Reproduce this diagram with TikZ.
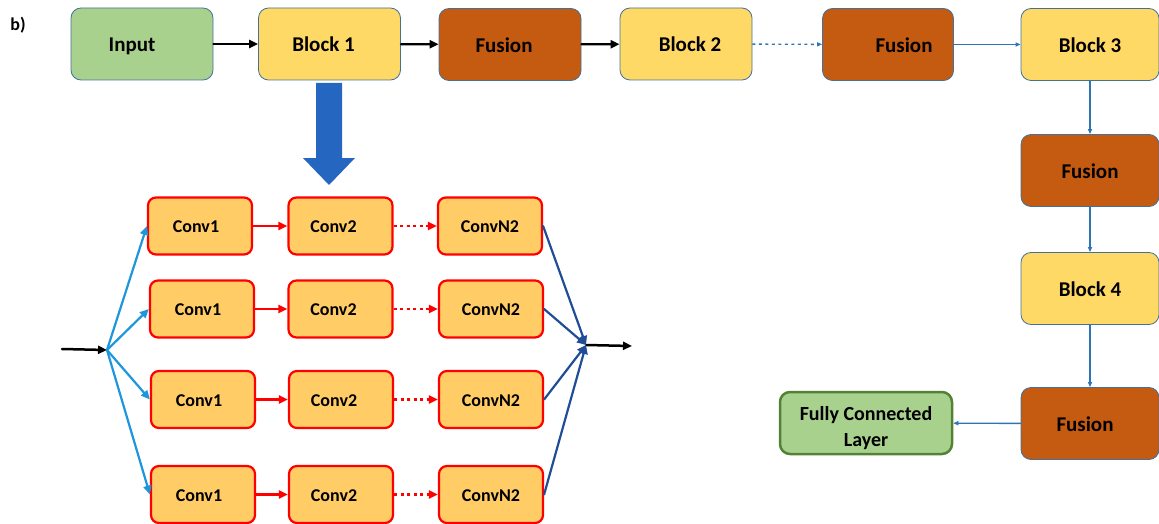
\documentclass[tikz,border=0pt]{standalone}
\usepackage{fontspec}
\setmainfont{Carlito}
\usetikzlibrary{arrows.meta}
\definecolor{cGreen}{HTML}{A9D18E}
\definecolor{cGreenD}{HTML}{548235}
\definecolor{cYellow}{HTML}{FFD966}
\definecolor{cRust}{HTML}{C55A11}
\definecolor{cEdge}{HTML}{41719C}
\definecolor{cConv}{HTML}{FFCC66}
\definecolor{cBlue}{HTML}{2E75B6}
\definecolor{cSky}{HTML}{1E96DC}
\definecolor{cNavy}{HTML}{1F4E96}
\definecolor{cBig}{HTML}{2566C0}

\tikzset{
  box/.style={draw=cEdge,line width=0.8pt,rounded corners=10pt,
              minimum width=142pt,minimum height=72pt,
              text height=17pt,text depth=1pt,
              font=\fontsize{21}{21}\selectfont\bfseries},
  fcbox/.style={fill=cGreen,draw=cGreenD,line width=2.5pt,rounded corners=10pt,
                minimum width=172pt,minimum height=62pt,align=center,
                font=\fontsize{20}{26}\selectfont\bfseries},
  conv/.style={draw=red,fill=cConv,line width=2.2pt,rounded corners=8pt,
               minimum width=104pt,minimum height=57pt,
               text height=14pt,text depth=1pt,
               font=\fontsize{18}{18}\selectfont\bfseries},
  tip/.style={-{Triangle[length=9pt,width=8pt]}},
  smalltip/.style={-{Triangle[length=5pt,width=4pt]}},
  dots/.style={dash pattern=on 3pt off 3.5pt,line cap=butt}
}

\begin{document}
\begin{tikzpicture}[x=1pt,y=-1pt,line cap=round,line join=round]
  \useasboundingbox (0,0) rectangle (1159,524);

  \node[font=\fontsize{18}{18}\selectfont\bfseries] (lbl) at (18,25) {b)};

  % top row
  \node[box,fill=cGreen] (input) at (142,44) {Input\hspace*{20pt}};
  \node[box,fill=cYellow] (blk1) at (329.5,44) {Block 1\hspace*{12pt}};
  \node[box,fill=cRust] (fus1) at (510,44.5) {Fusion\hspace*{12pt}};
  \node[box,fill=cYellow,minimum width=132pt] (blk2) at (686,44) {\hspace*{8pt}Block 2};
  \node[box,fill=cRust,minimum width=131pt] (fus2) at (888,44.5) {\hspace*{32pt}Fusion};
  \node[box,fill=cYellow,minimum width=138pt] (blk3) at (1090,44.5) {Block 3};
  % right column
  \node[box,fill=cRust,minimum width=138pt] (fus3) at (1090,170.5) {Fusion};
  \node[box,fill=cYellow,minimum width=138pt] (blk4) at (1090,288.5) {Block 4};
  \node[box,fill=cRust,minimum width=138pt] (fus4) at (1090,423.5) {Fusion\hspace*{10pt}};
  \node[fcbox] (fc) at (866,423) {\rule{0pt}{25pt}Fully Connected\\Layer};

  \begin{scope}[line width=2.2pt]
    \draw[tip] (input) -- (blk1);
    \draw[tip] (blk1) -- (fus1);
    \draw[tip] (fus1) -- (blk2);
  \end{scope}
  \begin{scope}[cBlue,line width=1.4pt]
    \draw[smalltip,dots] (blk2) -- (fus2);
    \draw[smalltip] (fus2) -- (blk3);
    \draw[smalltip] (blk3) -- (fus3);
    \draw[smalltip] (fus3) -- (blk4);
    \draw[smalltip] (blk4) -- (fus4);
    \draw[smalltip] (fus4) -- (fc);
  \end{scope}

  % big arrow into the block detail
  \fill[cBig] (316,83) -- (342,83) -- (342,158) -- (355,158) -- (329,185)
    -- (303,158) -- (316,158) -- cycle;

  % block detail
  \node[conv] (c1a) at (200,226) {Conv1\hspace*{8pt}};
  \node[conv] (c2a) at (340.5,226) {Conv2\hspace*{14pt}};
  \node[conv] (c3a) at (490,226) {ConvN2};
  \node[conv] (c1b) at (202,309) {Conv1\hspace*{8pt}};
  \node[conv] (c2b) at (340.5,309) {Conv2\hspace*{14pt}};
  \node[conv] (c3b) at (491,309) {ConvN2};
  \node[conv] (c1c) at (203,399.5) {Conv1\hspace*{8pt}};
  \node[conv] (c2c) at (341,399.5) {Conv2\hspace*{14pt}};
  \node[conv] (c3c) at (491,399.5) {ConvN2};
  \node[conv] (c1d) at (203,494.5) {Conv1\hspace*{8pt}};
  \node[conv] (c2d) at (341,494.5) {Conv2\hspace*{14pt}};
  \node[conv] (c3d) at (491,494.5) {ConvN2};

  \coordinate (inS) at (62,349);
  \coordinate (split) at (107,350);
  \coordinate (merge) at (586,345);
  \coordinate (outE) at (632,346);

  \draw[tip,line width=2.5pt] (inS) -- (split);
  \draw[tip,line width=2.5pt] (merge) -- (outE);

  \begin{scope}[red,line width=2.4pt]
    \draw[tip] (c1a) -- (c2a);
    \draw[tip] (c1b) -- (c2b);
    \draw[tip] (c1c) -- (c2c);
    \draw[tip] (c1d) -- (c2d);
    \draw[tip,dots] (c2a) -- (c3a);
    \draw[tip,dots] (c2b) -- (c3b);
    \draw[tip,dots] (c2c) -- (c3c);
    \draw[tip,dots] (c2d) -- (c3d);
  \end{scope}

  \begin{scope}[cSky,line width=2.2pt]
    \draw[tip] (split) -- (c1a.west);
    \draw[tip] (split) -- (c1b.west);
    \draw[tip] (split) -- (c1c.west);
    \draw[tip] (split) -- (c1d.west);
  \end{scope}
  \begin{scope}[cNavy,line width=2.2pt]
    \draw[tip] (c3a.east) -- (merge);
    \draw[tip] (c3b.east) -- (merge);
    \draw[tip] (c3c.east) -- (merge);
    \draw[tip] (c3d.east) -- (merge);
  \end{scope}

\end{tikzpicture}
\end{document}
